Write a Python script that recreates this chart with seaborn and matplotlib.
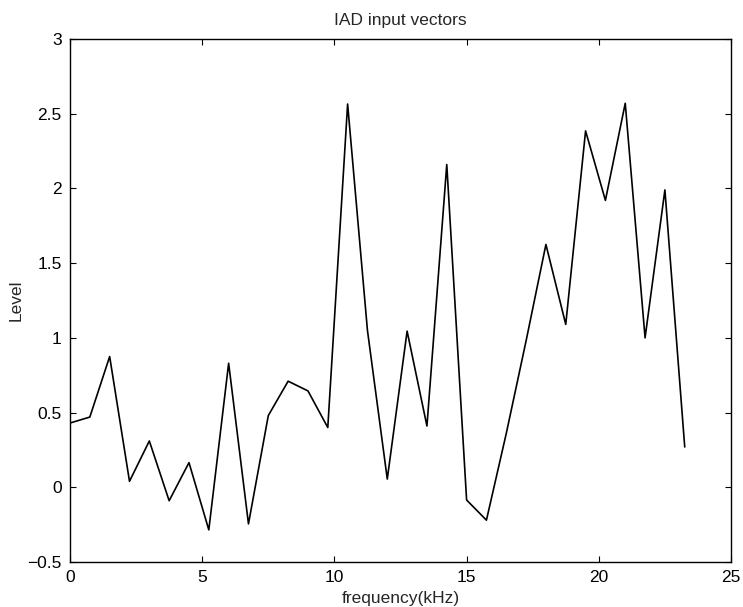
import matplotlib
matplotlib.use("Agg")
import matplotlib.pyplot as plt
from matplotlib.ticker import FuncFormatter
import seaborn as sns
import pandas as pd

# Data
frequency_khz = [0.0, 0.75, 1.5, 2.25, 3.0, 3.75, 4.5, 5.25, 6.0, 6.75,
                 7.5, 8.25, 9.0, 9.75, 10.5, 11.25, 12.0, 12.75, 13.5, 14.25,
                 15.0, 15.75, 16.5, 17.25, 18.0, 18.75, 19.5, 20.25, 21.0, 21.75,
                 22.5, 23.25]
level = [0.43, 0.47, 0.875, 0.04, 0.31, -0.09, 0.165, -0.285, 0.83, -0.245,
         0.48, 0.71, 0.645, 0.40, 2.565, 1.05, 0.055, 1.045, 0.41, 2.16,
         -0.085, -0.22, 0.36, 0.98, 1.625, 1.09, 2.385, 1.92, 2.57, 1.00,
         1.99, 0.27]
x_ticks = [0, 5, 10, 15, 20, 25]
y_ticks = [-0.5, 0, 0.5, 1, 1.5, 2, 2.5, 3]

df = pd.DataFrame({"frequency": frequency_khz, "level": level})

sns.set_style("ticks")
plt.rcParams["font.family"] = ["Liberation Sans", "DejaVu Sans"]
plt.rcParams["font.size"] = 12.5

fig = plt.figure(figsize=(7.43, 6.07), dpi=100)
ax = fig.add_axes([70 / 743, (607 - 562) / 607, (731 - 70) / 743, (562 - 39) / 607])

sns.lineplot(data=df, x="frequency", y="level", color="black", linewidth=1.2, ax=ax,
             sort=False, estimator=None)

ax.set_xlim(0, 25)
ax.set_ylim(-0.5, 3)
ax.set_xticks(x_ticks)
ax.set_yticks(y_ticks)
fmt = FuncFormatter(lambda v, p: ("%g" % v).replace("-", "\u2212"))
ax.xaxis.set_major_formatter(fmt)
ax.yaxis.set_major_formatter(fmt)

ax.tick_params(direction="in", length=4.5, width=0.8, top=True, right=True,
               labelsize=12.5, colors="black", pad=6)
for s in ax.spines.values():
    s.set_visible(True)
    s.set_linewidth(1.0)
    s.set_color("black")

ax.set_title("IAD input vectors", fontsize=12.5, pad=10)
ax.set_xlabel("frequency(kHz)", fontsize=12.5, labelpad=4)
ax.set_ylabel("Level", fontsize=12.5, labelpad=3)

fig.savefig("out.png", dpi=100, facecolor="white")
